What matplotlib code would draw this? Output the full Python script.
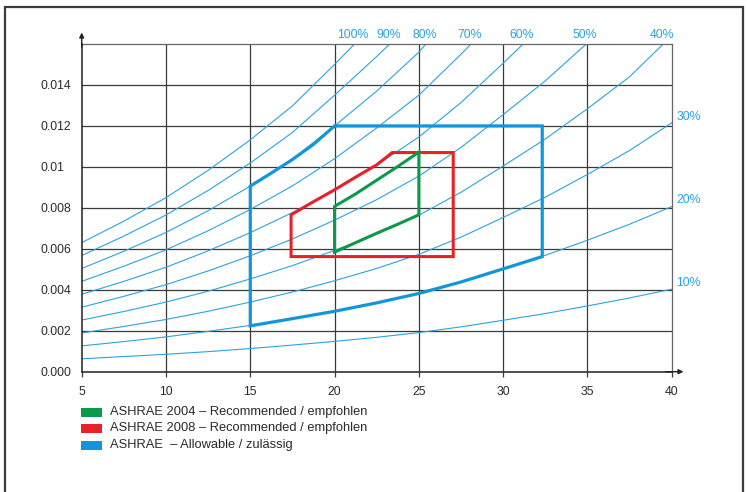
import matplotlib
matplotlib.use("Agg")
import matplotlib.pyplot as plt
from matplotlib.patches import Rectangle
import numpy as np

plt.rcParams['font.family'] = ['Liberation Sans', 'DejaVu Sans']

# ---------------- data ----------------
temps = [5, 7.5, 10, 12.5, 15, 17.5, 20, 22.5, 25, 27.5, 30, 32.5, 35, 37.5, 40]

rh_10 = [0.00063, 0.00074, 0.00085, 0.00098, 0.00113, 0.0013, 0.00148, 0.00168, 0.00191, 0.00219, 0.00251, 0.00284, 0.00321, 0.0036, 0.00403]
rh_20 = [0.00126, 0.00147, 0.0017, 0.00197, 0.00226, 0.00259, 0.00296, 0.00336, 0.00382, 0.00438, 0.00502, 0.00568, 0.00642, 0.0072, 0.00806]
rh_30 = [0.00189, 0.00221, 0.00255, 0.00295, 0.0034, 0.00389, 0.00444, 0.00504, 0.00573, 0.00657, 0.00753, 0.00852, 0.00963, 0.0108, 0.01215]
rh_40 = [0.00252, 0.00294, 0.0034, 0.00393, 0.00453, 0.00518, 0.00592, 0.00672, 0.00764, 0.00876, 0.01004, 0.01136, 0.01284, 0.0144, 0.0164]
rh_50 = [0.00315, 0.00368, 0.00425, 0.00492, 0.00566, 0.00648, 0.0074, 0.0084, 0.00955, 0.01095, 0.01255, 0.0142, 0.01605, 0.018]
rh_60 = [0.00378, 0.00441, 0.0051, 0.0059, 0.00679, 0.00777, 0.00888, 0.01008, 0.01146, 0.01314, 0.01506, 0.01704]
rh_70 = [0.00441, 0.00515, 0.00595, 0.00688, 0.00792, 0.00907, 0.0104, 0.0119, 0.0135, 0.0155, 0.0176]
rh_80 = [0.00504, 0.00588, 0.0068, 0.00786, 0.00906, 0.01038, 0.0120, 0.0137, 0.0156, 0.0180]
rh_90 = [0.00567, 0.00662, 0.00765, 0.00885, 0.01019, 0.01168, 0.0135, 0.01539, 0.01737]
rh_100 = [0.0063, 0.00735, 0.0085, 0.00983, 0.01132, 0.01298, 0.0150, 0.0171]

rh_top_labels = ['100%', '90%', '80%', '70%', '60%', '50%', '40%']
rh_right_labels = ['30%', '20%', '10%']

# ASHRAE 2004 recommended (green)
green_t = [20, 20, 21.25, 22.5, 23.75, 25, 25, 23.75, 22.5, 21.25]
green_w = [0.00584, 0.00807, 0.00868, 0.00935, 0.01002, 0.01072, 0.00766, 0.0072, 0.00676, 0.0063]

# ASHRAE 2008 recommended (red)
red_t = [17.42, 17.42, 18.75, 20, 21.25, 22.5, 23.42, 27.04, 27.04]
red_w = [0.00562, 0.00766, 0.0083, 0.00888, 0.0095, 0.0101, 0.0107, 0.0107, 0.00562]

# ASHRAE allowable (blue)
blue_t = [15, 17.5, 20, 22.5, 25, 27.5, 30, 32.32, 32.32, 20, 18.75, 17.5, 16.25, 15]
blue_w = [0.00224, 0.00259, 0.00295, 0.00336, 0.00382, 0.00438, 0.00502, 0.00562, 0.012, 0.012, 0.0111, 0.01036, 0.0097, 0.00906]

x_ticks = [5, 10, 15, 20, 25, 30, 35, 40]
y_ticks = [0.0, 0.002, 0.004, 0.006, 0.008, 0.010, 0.012, 0.014]
y_tick_labels = ['0.000', '0.002', '0.004', '0.006', '0.008', '0.01', '0.012', '0.014']

legend_labels = ['ASHRAE 2004 \u2013 Recommended / empfohlen',
                 'ASHRAE 2008 \u2013 Recommended / empfohlen',
                 'ASHRAE  \u2013 Allowable / zul\u00e4ssig']

# ---------------- styling ----------------
W, H = 747, 492
BLUE_THIN = '#2aa3de'
BLUE = '#1396d8'
RED = '#e8202a'
GREEN = '#0b9a4a'
GRID = '#3a3a3a'
TXT = '#2a2a2a'

fig = plt.figure(figsize=(W / 100, H / 100), dpi=100)
ax = fig.add_axes([81.7 / W, 1 - 371.7 / H, 590 / W, (371.7 - 44) / H])
ax.set_xlim(5, 40)
ax.set_ylim(0, 0.016)

# grid
for xv in x_ticks[1:-1]:
    ax.axvline(xv, color=GRID, lw=0.9, zorder=1)
for yv in y_ticks[1:]:
    ax.axhline(yv, color=GRID, lw=0.9, zorder=1)

# RH curves
curves = [rh_100, rh_90, rh_80, rh_70, rh_60, rh_50, rh_40, rh_30, rh_20, rh_10]
all_labels = rh_top_labels + rh_right_labels
for lab, w in zip(all_labels, curves):
    t = temps[:len(w)]
    ax.plot(t, w, color=BLUE_THIN, lw=0.8, zorder=2)
    if w[-1] > 0.016:
        tc = np.interp(0.016, w, t)
        ax.annotate(lab, xy=(tc, 0.016), xytext=(-1, 6.8), textcoords='offset points',
                    ha='center', va='center', color=BLUE_THIN, fontsize=8.8,
                    annotation_clip=False)
    else:
        ax.annotate(lab, xy=(t[-1], w[-1]), xytext=(3.5, 4.5), textcoords='offset points',
                    ha='left', va='center', color=BLUE_THIN, fontsize=8.8,
                    annotation_clip=False)

# envelopes
ax.fill(blue_t, blue_w, facecolor='none', edgecolor=BLUE, lw=2.3, joinstyle='miter', zorder=3)
ax.fill(red_t, red_w, facecolor='none', edgecolor=RED, lw=2.2, joinstyle='miter', zorder=4)
ax.fill(green_t, green_w, facecolor='none', edgecolor=GREEN, lw=2.2, joinstyle='miter', zorder=5)

# axes
ax.set_xticks(x_ticks)
ax.set_yticks(y_ticks)
ax.set_yticklabels(y_tick_labels)
ax.tick_params(axis='x', length=3.5, width=0.9, color=GRID, pad=7, labelsize=8.8, labelcolor=TXT)
ax.tick_params(axis='y', length=0, pad=29.7, labelsize=8.8, labelcolor=TXT)
for lbl in ax.get_yticklabels():
    lbl.set_ha('left')
for s in ['top', 'right']:
    ax.spines[s].set_color('#666666')
    ax.spines[s].set_linewidth(0.9)
for s in ['left', 'bottom']:
    ax.spines[s].set_color('#222222')
    ax.spines[s].set_linewidth(1.1)
ax.spines['left'].set_zorder(6)
ax.spines['bottom'].set_zorder(6)

arrow = dict(arrowstyle='-|>', color='#222222', lw=1.0, mutation_scale=7, shrinkA=0, shrinkB=0)
ax.annotate('', xy=(0, 1.035), xytext=(0, 0.99), xycoords='axes fraction', arrowprops=arrow,
            annotation_clip=False)
ax.annotate('', xy=(1.02, 0), xytext=(0.99, 0), xycoords='axes fraction', arrowprops=arrow,
            annotation_clip=False)

# legend (manual)
leg_colors = [GREEN, RED, BLUE]
for i, (lab, col) in enumerate(zip(legend_labels, leg_colors)):
    yc = 412 + i * 16.5
    fig.add_artist(Rectangle((81 / W, 1 - (yc + 4.5) / H), 21 / W, 9 / H,
                             transform=fig.transFigure, facecolor=col, edgecolor='none'))
    fig.text(110 / W, 1 - yc / H, lab, ha='left', va='center', fontsize=9.3, color=TXT)

# outer frame
fig.add_artist(Rectangle((4.5 / W, -0.1), (743 - 4.5) / W, 1 - 7 / H + 0.1,
                         transform=fig.transFigure, fill=False, edgecolor='#3c3c3c', lw=1.6))

fig.savefig('out.png', dpi=100)
